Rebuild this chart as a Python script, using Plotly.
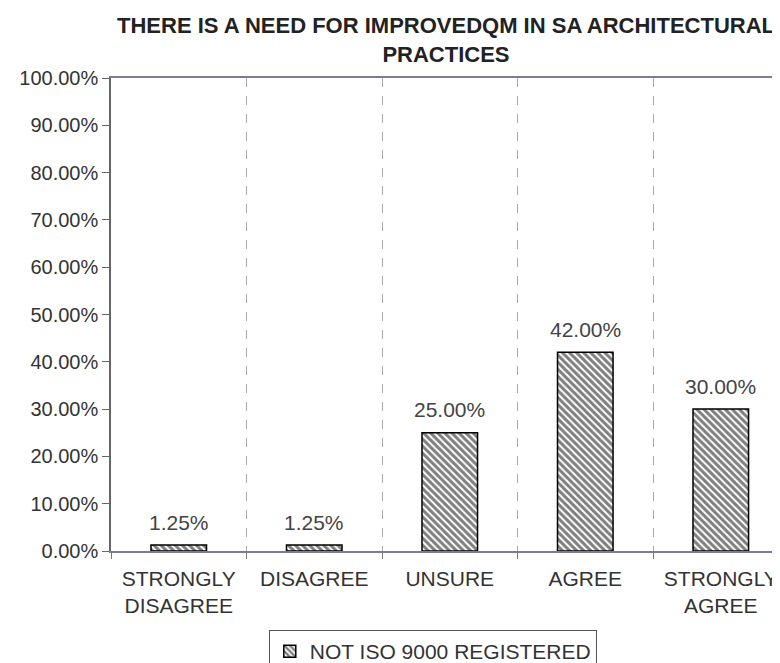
import plotly.graph_objects as go

categories = ["STRONGLY<br>DISAGREE", "DISAGREE", "UNSURE", "AGREE", "STRONGLY<br>AGREE"]
values = [1.25, 1.25, 25.0, 42.0, 30.0]
series_name = "NOT ISO 9000 REGISTERED"
title_text = "<b>THERE IS A NEED FOR IMPROVEDQM IN SA ARCHITECTURAL<br>PRACTICES</b>"

FONT = "Liberation Sans, Arial, sans-serif"
TXT = "#333333"

W, H = 772, 655
ML, MT, MB = 103, 70, 112
PH = H - MT - MB

fig = go.Figure()
fig.add_trace(go.Bar(
    x=categories, y=values, name=series_name,
    width=0.41,
    marker=dict(color="white",
                line=dict(color="black", width=1.5),
                pattern=dict(shape="\\", fgcolor="black", bgcolor="white",
                             size=5, solidity=0.6)),
    showlegend=True,
))

for c, v in zip(categories, values):
    fig.add_annotation(x=c, y=v, text=f"{v:.2f}%", showarrow=False,
                       yanchor="middle", yshift=23,
                       font=dict(family=FONT, size=21, color="#444"))

# title as annotation for precise multi-line placement
fig.add_annotation(text=title_text, xref="paper", yref="paper",
                   x=0.5, y=1 + (MT - 32) / PH, xanchor="center", yanchor="middle",
                   showarrow=False,
                   font=dict(family=FONT, size=22, color="#222"))

fig.update_layout(
    width=W, height=H,
    margin=dict(l=ML, r=0, t=MT, b=MB, autoexpand=False),
    paper_bgcolor="white", plot_bgcolor="white",
    font=dict(family=FONT, size=20, color=TXT),
    showlegend=True,
    legend=dict(orientation="h", x=0.481, xanchor="center",
                y=-79 / PH, yanchor="top",
                bordercolor="#555", borderwidth=1,
                font=dict(family=FONT, size=21, color=TXT)),
)
fig.update_xaxes(
    type="category", range=[-0.5, 4.437],
    showline=True, linecolor="#7c7c98", linewidth=1.5, mirror=True,
    tickson="boundaries", ticks="outside", ticklen=6, tickcolor="#777",
    ticklabelstandoff=8,
    showgrid=True, gridcolor="#aaa", griddash="dash", gridwidth=1,
    tickfont=dict(family=FONT, size=21, color=TXT),
)
fig.update_yaxes(
    range=[0, 100], dtick=10, ticksuffix="%", tickformat=".2f",
    showline=True, linecolor="#666", linewidth=1.5,
    ticks="outside", ticklen=7, tickcolor="#666",
    showgrid=False, zeroline=False,
    tickfont=dict(family=FONT, size=20, color=TXT),
)

fig.write_html("out.html")
